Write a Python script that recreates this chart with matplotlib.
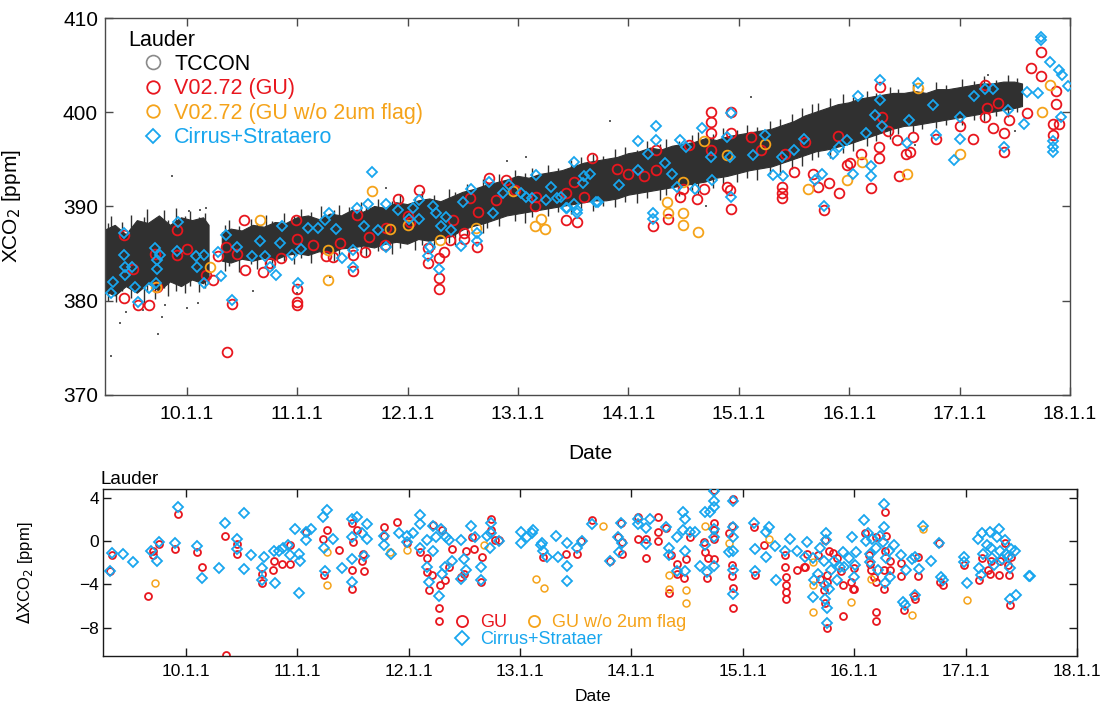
import matplotlib
matplotlib.use("Agg")
import matplotlib.pyplot as plt
import numpy as np
from matplotlib.lines import Line2D

plt.rcParams["font.family"] = ["Liberation Sans", "DejaVu Sans"]

RED = "#E8161E"
ORANGE = "#F5A31A"
BLUE = "#18A6EE"
TC = "#303030"

XTICKS = [2010, 2011, 2012, 2013, 2014, 2015, 2016, 2017, 2018]
XTICK_LABELS = ["10.1.1", "11.1.1", "12.1.1", "13.1.1", "14.1.1",
                "15.1.1", "16.1.1", "17.1.1", "18.1.1"]

# ---- TCCON band (decimal year, low / high XCO2 of the daily spread) ----
tc_year = [2009.26, 2009.35, 2009.45, 2009.55, 2009.65, 2009.75, 2009.85, 2009.95,
           2010.05, 2010.15, 2010.20, 2010.26, 2010.32, 2010.40, 2010.50, 2010.60,
           2010.70, 2010.80, 2010.90, 2011.00, 2011.10, 2011.20, 2011.30, 2011.40,
           2011.50, 2011.60, 2011.70, 2011.80, 2011.90, 2012.00, 2012.10, 2012.20,
           2012.30, 2012.40, 2012.50, 2012.60, 2012.70, 2012.80, 2012.90, 2013.00,
           2013.10, 2013.20, 2013.30, 2013.40, 2013.50, 2013.60, 2013.70, 2013.80,
           2013.90, 2014.00, 2014.10, 2014.20, 2014.30, 2014.40, 2014.50, 2014.60,
           2014.70, 2014.80, 2014.90, 2015.00, 2015.10, 2015.20, 2015.30, 2015.40,
           2015.50, 2015.60, 2015.70, 2015.80, 2015.90, 2016.00, 2016.10, 2016.20,
           2016.30, 2016.40, 2016.50, 2016.60, 2016.70, 2016.80, 2016.90, 2017.00,
           2017.10, 2017.20, 2017.30, 2017.40, 2017.50, 2017.57]
tc_lo = [381.0, 380.5, 381.5, 380.8, 381.8, 381.0, 382.0, 381.5,
         382.2, 381.8, 382.5, np.nan, 384.2, 384.0, 384.4, 384.2,
         384.5, 384.3, 384.8, 385.0, 384.8, 385.2, 385.0, 385.5,
         385.6, 385.8, 385.6, 386.0, 386.2, 386.0, 386.5, 386.3,
         386.6, 386.8, 387.5, 387.9, 388.2, 388.6, 389.0, 389.2,
         389.4, 389.6, 389.8, 390.0, 390.2, 390.4, 390.6, 390.6,
         390.8, 391.2, 391.4, 391.6, 391.8, 392.0, 392.2, 392.4,
         392.6, 393.0, 393.2, 393.5, 393.8, 394.0, 394.2, 394.6,
         395.0, 395.4, 395.8, 396.0, 396.3, 396.6, 397.0, 397.4,
         397.8, 398.2, 398.5, 398.6, 398.8, 399.0, 399.2, 399.4,
         399.6, 399.8, 400.0, 400.2, 400.4, 400.6]
tc_hi = [387.5, 388.0, 387.0, 388.5, 388.2, 389.0, 388.0, 388.8,
         388.5, 388.8, 388.0, np.nan, 387.2, 387.6, 387.4, 388.0,
         387.8, 388.3, 388.2, 388.8, 389.0, 388.6, 389.2, 389.0,
         389.6, 389.4, 390.0, 389.8, 390.4, 390.2, 390.6, 390.8,
         390.5, 391.0, 391.5, 391.8, 392.2, 392.5, 392.8, 393.2,
         393.0, 393.4, 393.6, 393.8, 394.2, 394.6, 394.8, 395.0,
         395.2, 395.6, 395.8, 396.2, 396.0, 396.4, 396.6, 396.8,
         397.2, 397.0, 397.4, 397.6, 397.8, 398.0, 398.2, 398.6,
         399.0, 399.6, 400.0, 400.4, 400.8, 401.0, 401.4, 401.6,
         401.8, 402.0, 402.0, 402.2, 402.0, 402.4, 402.4, 402.6,
         402.8, 403.0, 403.0, 403.2, 403.2, 403.0]

# single days whose spread sticks out of the band
tc_spike_year = [2009.28, 2009.31, 2009.36, 2009.41, 2009.49, 2009.53, 2009.61, 2009.64,
                 2009.71, 2009.79, 2009.83, 2009.90, 2009.98, 2010.03, 2010.11, 2010.16,
                 2010.34, 2010.38, 2010.47, 2010.58, 2010.63, 2010.72, 2010.77, 2010.88,
                 2010.97, 2011.03, 2011.12, 2011.21, 2011.33, 2011.38, 2011.47, 2011.58,
                 2011.62, 2011.73, 2011.86, 2011.93, 2012.07, 2012.13, 2012.24, 2012.37,
                 2012.43, 2012.54, 2012.68, 2012.72, 2012.83, 2012.97, 2013.06, 2013.13,
                 2013.27, 2013.36, 2013.48, 2013.57, 2013.68, 2013.77, 2013.88, 2013.97,
                 2014.08, 2014.17, 2014.29, 2014.34, 2014.46, 2014.58, 2014.63, 2014.77,
                 2014.86, 2014.98, 2015.07, 2015.16, 2015.28, 2015.37, 2015.48, 2015.57,
                 2015.66, 2015.72, 2015.83, 2015.94, 2016.03, 2016.16, 2016.24, 2016.37,
                 2016.44, 2016.58, 2016.66, 2016.79, 2016.88, 2017.02, 2017.13, 2017.22,
                 2017.33, 2017.44, 2017.52]
tc_spike_lo = [380.0, 381.2, 379.9, 381.0, 380.3, 381.4, 379.8, 380.9,
               380.2, 381.3, 380.5, 381.0, 380.8, 381.6, 380.9, 381.3,
               383.2, 383.7, 383.1, 383.9, 383.4, 383.8, 383.3, 384.2,
               383.9, 384.5, 384.0, 384.6, 384.2, 384.9, 384.6, 385.1,
               384.7, 385.3, 385.0, 385.6, 385.4, 385.9, 385.5, 386.1,
               385.9, 386.8, 387.2, 387.7, 387.9, 388.5, 388.3, 388.9,
               389.0, 389.4, 389.2, 389.7, 389.5, 390.1, 389.9, 390.5,
               390.4, 390.9, 390.7, 391.2, 391.1, 391.6, 391.3, 392.0,
               392.3, 392.6, 393.0, 392.8, 393.5, 393.3, 394.0, 394.3,
               394.9, 395.3, 395.1, 395.7, 395.9, 396.4, 396.9, 397.2,
               397.7, 397.9, 398.2, 398.3, 398.7, 398.6, 399.2, 399.1,
               399.6, 399.5, 400.0]
tc_spike_hi = [388.2, 389.0, 387.6, 388.4, 389.1, 387.9, 388.9, 389.7,
               388.4, 389.6, 388.6, 389.8, 389.0, 389.5, 388.9, 389.3,
               388.0, 388.6, 387.9, 388.7, 388.2, 389.1, 388.5, 389.3,
               389.0, 389.7, 389.4, 390.0, 389.6, 390.2, 389.9, 390.5,
               390.0, 390.8, 390.6, 391.3, 391.0, 391.6, 391.2, 391.9,
               391.5, 392.4, 392.9, 392.6, 393.4, 393.9, 393.6, 394.1,
               394.4, 394.1, 394.9, 395.3, 395.6, 395.4, 396.1, 396.3,
               396.0, 396.9, 396.6, 397.2, 397.0, 397.6, 397.9, 397.7,
               398.3, 398.1, 398.6, 398.4, 399.1, 399.3, 399.8, 400.4,
               400.9, 401.0, 401.5, 401.9, 401.6, 402.3, 402.0, 402.7,
               402.5, 403.0, 402.6, 403.2, 402.9, 403.5, 403.3, 403.8,
               403.4, 403.9, 403.6]

# stray TCCON soundings outside the band
tc_out_year = [2009.31, 2009.39, 2009.74, 2009.86, 2009.77, 2010.00, 2010.02, 2010.17,
               2010.12, 2009.60, 2009.45, 2009.80, 2010.10, 2010.60, 2011.00, 2011.30,
               2012.20, 2012.90, 2013.07, 2013.83, 2015.11, 2017.26, 2016.60, 2017.50,
               2014.70, 2011.80]
tc_out_xco2 = [374.1, 377.6, 376.5, 393.2, 378.3, 379.2, 389.5, 389.8,
               389.6, 379.0, 378.8, 379.5, 379.8, 381.0, 380.8, 382.5,
               383.5, 394.8, 395.3, 399.1, 401.6, 404.0, 396.5, 398.0,
               390.0, 392.0]

# ---- satellite retrievals, top panel ----
gu_year = [2009.43, 2009.43, 2009.56, 2009.66, 2009.51, 2009.71, 2009.73, 2009.91, 2009.91,
           2010.17, 2010.24, 2010.28, 2010.35, 2010.36, 2010.41, 2010.45, 2010.52, 2010.53,
           2010.69, 2010.75, 2010.85, 2010.99, 2011.00, 2011.00, 2011.00, 2011.14, 2011.26,
           2011.32, 2011.39, 2011.50, 2011.50, 2011.61, 2011.54, 2011.65, 2011.79, 2011.80,
           2011.91, 2012.02, 2012.10, 2012.18, 2012.18, 2012.28, 2012.28, 2012.28, 2012.33,
           2012.38, 2012.41, 2012.51, 2012.51, 2012.56, 2012.63, 2012.64, 2012.74, 2012.80,
           2012.89, 2012.97, 2013.15, 2013.16, 2013.43, 2013.51, 2013.53, 2013.43, 2013.60,
           2013.67, 2014.14, 2014.22, 2014.25, 2014.25, 2014.36, 2014.47, 2014.49, 2014.62,
           2014.68, 2014.75, 2014.75, 2014.75, 2014.75, 2014.89, 2014.92, 2014.93, 2014.93,
           2014.93, 2015.11, 2015.39, 2015.39, 2015.39, 2015.42, 2015.50, 2015.67, 2015.72,
           2015.77, 2015.82, 2015.91, 2015.98, 2016.01, 2016.11, 2016.20, 2016.27, 2016.28,
           2016.27, 2016.43, 2016.45, 2016.51, 2016.55, 2016.58, 2016.79, 2017.00, 2017.12,
           2017.23, 2017.23, 2017.30, 2017.40, 2017.40, 2017.45, 2017.61, 2017.65, 2017.74,
           2017.74, 2017.85, 2017.85, 2017.90, 2017.87, 2017.87, 2013.90, 2014.55, 2015.20,
           2015.90, 2016.30, 2016.35, 2017.25, 2017.35, 2015.60, 2014.00, 2012.00, 2011.00,
           2010.00]
gu_xco2 = [387.0, 380.3, 379.5, 379.5, 383.4, 385.0, 381.5, 387.5, 384.9,
           382.7, 382.2, 384.7, 385.7, 374.6, 379.7, 385.0, 388.6, 383.3,
           383.1, 384.0, 384.5, 388.6, 381.2, 379.9, 379.5, 385.9, 384.7,
           384.6, 386.1, 384.9, 383.2, 385.2, 389.1, 386.8, 385.9, 387.7,
           390.8, 388.4, 391.7, 385.6, 384.0, 384.5, 382.4, 381.2, 385.2,
           386.4, 388.6, 387.2, 386.6, 390.9, 385.7, 389.4, 393.0, 390.7,
           392.8, 391.7, 390.0, 391.0, 391.4, 392.6, 388.4, 388.6, 391.0,
           395.1, 393.2, 387.9, 396.0, 393.9, 388.7, 391.0, 391.9, 390.8,
           391.9, 400.0, 399.0, 397.8, 396.0, 392.1, 391.8, 389.7, 400.0,
           397.8, 397.4, 392.1, 391.4, 390.9, 395.6, 393.7, 393.5, 392.1,
           389.6, 392.5, 391.4, 394.4, 394.6, 395.6, 392.0, 395.1, 402.7,
           396.3, 397.1, 393.2, 395.6, 395.8, 397.4, 397.2, 398.5, 397.2,
           402.9, 399.5, 398.3, 395.8, 397.8, 399.2, 399.9, 404.7, 406.4,
           403.8, 398.8, 397.6, 398.8, 400.9, 402.3, 394.0, 396.5, 396.0,
           397.5, 399.5, 398.0, 400.5, 401.0, 396.8, 393.5, 389.0, 386.5,
           385.5]

gu_noflag_year = [2009.72, 2010.21, 2010.66, 2011.28, 2011.28, 2011.68, 2011.84, 2012.00,
                  2012.29, 2012.62, 2012.95, 2013.15, 2013.24, 2013.21, 2014.35, 2014.36,
                  2014.49, 2014.49, 2014.63, 2014.49, 2014.89, 2015.24, 2015.63, 2015.98,
                  2016.12, 2016.52, 2016.62, 2017.00, 2017.75, 2017.82, 2014.68]
gu_noflag_xco2 = [381.5, 383.6, 388.6, 385.4, 382.2, 391.6, 387.6, 388.0,
                  386.4, 387.7, 391.6, 387.9, 387.6, 388.7, 390.5, 389.3,
                  389.3, 388.0, 387.3, 392.6, 395.5, 396.6, 391.9, 392.8,
                  394.7, 393.5, 402.6, 395.6, 400.0, 402.9, 396.9]

cirrus_year = [2009.31, 2009.33, 2009.43, 2009.43, 2009.44, 2009.44, 2009.50, 2009.53, 2009.56,
               2009.66, 2009.71, 2009.73, 2009.73, 2009.76, 2009.72, 2009.92, 2009.91, 2010.08,
               2010.09, 2010.15, 2010.15, 2010.28, 2010.31, 2010.35, 2010.41, 2010.45, 2010.59,
               2010.66, 2010.71, 2010.75, 2010.81, 2010.84, 2010.86, 2010.95, 2011.01, 2011.03,
               2011.10, 2011.19, 2011.25, 2011.29, 2011.35, 2011.40, 2011.50, 2011.50, 2011.54,
               2011.60, 2011.64, 2011.68, 2011.73, 2011.80, 2011.80, 2011.91, 2012.01, 2012.05,
               2012.10, 2012.10, 2012.18, 2012.20, 2012.23, 2012.26, 2012.28, 2012.30, 2012.35,
               2012.39, 2012.48, 2012.50, 2012.57, 2012.63, 2012.63, 2012.74, 2012.77, 2012.86,
               2012.92, 2013.03, 2013.07, 2013.13, 2013.16, 2013.25, 2013.30, 2013.39, 2013.44,
               2013.53, 2013.51, 2013.60, 2013.71, 2013.65, 2013.35, 2013.43, 2013.51, 2013.53,
               2013.59, 2013.72, 2013.91, 2014.09, 2014.09, 2014.18, 2014.22, 2014.22, 2014.25,
               2014.25, 2014.33, 2014.39, 2014.44, 2014.47, 2014.52, 2014.60, 2014.67, 2014.75,
               2014.76, 2014.89, 2014.92, 2014.93, 2014.93, 2015.13, 2015.24, 2015.31, 2015.39,
               2015.40, 2015.50, 2015.59, 2015.69, 2015.75, 2015.77, 2015.85, 2015.91, 2015.98,
               2016.03, 2016.08, 2016.15, 2016.20, 2016.20, 2016.23, 2016.28, 2016.28, 2016.30,
               2016.52, 2016.54, 2016.62, 2016.76, 2016.79, 2016.95, 2017.00, 2017.00, 2017.13,
               2017.23, 2017.30, 2017.40, 2017.44, 2017.58, 2017.61, 2017.74, 2017.74, 2017.82,
               2017.90, 2017.93, 2017.98, 2017.85, 2017.85, 2017.85, 2017.92, 2017.71]
cirrus_xco2 = [380.8, 382.0, 387.2, 384.9, 383.6, 382.7, 383.6, 381.5, 379.9,
               381.3, 385.6, 383.4, 384.3, 384.9, 381.9, 388.4, 385.3, 384.7,
               383.6, 384.9, 381.9, 385.2, 382.6, 387.0, 380.1, 385.7, 384.7,
               386.3, 384.7, 383.6, 382.7, 386.1, 387.9, 384.9, 381.9, 385.5,
               387.7, 387.7, 388.6, 389.3, 387.6, 384.5, 383.6, 385.4, 389.8,
               387.9, 390.3, 393.7, 387.5, 385.7, 390.3, 389.6, 388.7, 389.8,
               390.7, 388.7, 384.7, 385.7, 390.0, 389.3, 383.4, 387.9, 388.9,
               387.5, 385.8, 390.5, 391.9, 386.3, 387.2, 392.6, 389.3, 391.4,
               392.3, 391.4, 391.0, 390.9, 393.3, 390.7, 392.1, 391.0, 389.8,
               389.6, 394.7, 393.2, 390.5, 393.5, 390.9, 389.8, 390.3, 389.3,
               392.5, 390.5, 392.3, 396.9, 393.9, 395.6, 389.3, 388.7, 398.5,
               397.1, 394.6, 393.5, 392.1, 397.1, 396.3, 391.9, 398.3, 395.3,
               392.8, 397.4, 395.3, 391.0, 399.9, 395.5, 397.6, 393.3, 395.3,
               393.2, 396.0, 397.2, 392.8, 393.5, 390.1, 395.6, 396.3, 397.1,
               393.5, 401.7, 397.8, 394.3, 393.2, 399.7, 403.4, 401.3, 398.5,
               396.7, 399.2, 403.1, 400.8, 397.6, 394.9, 397.2, 399.5, 401.7,
               402.5, 402.5, 396.3, 400.2, 398.8, 402.2, 408.0, 407.7, 405.3,
               404.5, 404.0, 402.8, 395.8, 396.3, 396.9, 399.5, 402.0]

# ---- bottom panel: difference to TCCON ----
d_gu_year = [2009.32, 2009.34, 2009.66, 2009.71, 2009.71, 2009.76, 2009.93, 2009.90, 2010.10,
             2010.15, 2010.35, 2010.36, 2010.46, 2010.46, 2010.68, 2010.68, 2010.78, 2010.79,
             2010.86, 2010.94, 2010.94, 2011.08, 2011.23, 2011.24, 2011.27, 2011.38, 2011.49,
             2011.49, 2011.49, 2011.50, 2011.54, 2011.58, 2011.60, 2011.59, 2011.78, 2011.78,
             2011.90, 2011.99, 2012.10, 2012.17, 2012.17, 2012.18, 2012.21, 2012.22, 2012.27,
             2012.27, 2012.28, 2012.30, 2012.33, 2012.36, 2012.39, 2012.47, 2012.50, 2012.52,
             2012.57, 2012.59, 2012.65, 2012.66, 2012.74, 2012.74, 2012.78, 2012.81,
             2013.21, 2013.41, 2013.51, 2013.55, 2013.65, 2013.81, 2013.88, 2013.91, 2013.92,
             2013.92, 2014.06, 2014.06, 2014.13, 2014.13, 2014.24, 2014.24, 2014.24, 2014.31,
             2014.34, 2014.36, 2014.41, 2014.41, 2014.47, 2014.49, 2014.53, 2014.65, 2014.66,
             2014.68, 2014.69, 2014.74, 2014.74, 2014.74, 2014.74, 2014.74, 2014.88, 2014.90,
             2014.90, 2014.90, 2014.91, 2014.91, 2014.91, 2015.10, 2015.11, 2015.19, 2015.38,
             2015.38, 2015.39, 2015.39, 2015.39, 2015.39, 2015.49, 2015.55, 2015.56, 2015.58,
             2015.68, 2015.69, 2015.73, 2015.74, 2015.74, 2015.76, 2015.76, 2015.76, 2015.77,
             2015.81, 2015.85, 2015.88, 2015.90, 2015.90, 2015.97, 2015.99, 2016.00, 2016.00,
             2016.10, 2016.13, 2016.14, 2016.15, 2016.18, 2016.20, 2016.20, 2016.20, 2016.20,
             2016.28, 2016.27, 2016.27, 2016.28, 2016.29, 2016.32, 2016.32, 2016.42, 2016.42,
             2016.45, 2016.54, 2016.55, 2016.57, 2016.57, 2016.76, 2016.77, 2016.80, 2016.99,
             2017.12, 2017.15, 2017.20, 2017.22, 2017.23, 2017.30, 2017.31, 2017.35, 2017.38,
             2017.39, 2017.41, 2017.40]
d_gu = [-2.8, -1.3, -5.1, -1.3, -0.9, -0.3, 2.5, -0.7, -1.0,
        -2.4, 0.5, -10.5, -1.2, -0.3, -3.0, -3.9, -2.7, -1.8,
        -2.1, -0.4, -2.1, 0.8, 0.2, -3.1, 1.0, -0.8, 1.7,
        -2.7, -4.4, -0.1, 1.0, -1.8, -2.8, -1.2, 1.3, 0.5,
        1.8, -0.2, -1.0, -1.6, -2.9, -4.5, -3.1, 1.5, -6.2,
        -7.4, -4.1, 1.0, -3.6, -2.4, -0.7, -3.3, -3.0, -0.9,
        0.4, -0.7, -3.8, -1.5, 2.0, 1.0, 0.1, 0.1,
        -1.5, -1.2, -1.2, 0.0, 1.9, -1.8, 0.4, 1.7, -0.1,
        -1.2, 2.2, 0.2, -1.6, 0.2, 2.2, 0.8, 0.0, 1.2,
        -4.8, -1.3, -2.1, -3.0, -3.4, -1.7, 0.4, -0.1, -1.0,
        -3.4, -1.6, 1.7, 1.0, 0.2, -1.7, 4.7, 0.7, 1.4,
        -2.2, -3.2, -4.3, -6.2, 3.9, 1.3, -3.1, -0.4, -1.3,
        -2.4, -3.3, -4.1, -4.7, -5.3, -2.7, -2.4, -2.4, -1.2,
        -1.3, -3.5, -4.5, 0.1, -5.7, -3.1, -8.0, -3.8, -0.9,
        -1.1, -1.6, -2.8, -4.1, -6.9, -3.8, -4.4, -4.4, -2.5,
        0.7, -1.3, -2.1, -2.7, -3.3, -3.8, 0.4, -6.5, -7.4,
        2.7, -2.7, -4.4, -0.9, 0.5, -1.8, -2.7, -3.2, -2.0,
        -6.4, -5.1, -5.3, -3.2, -1.5, -0.2, -3.8, -4.1, -2.2,
        -3.6, -1.6, -2.7, -3.0, -1.8, -3.1, -1.8, -0.2, -2.2,
        -3.1, -1.5, -5.9]

d_noflag_year = [2009.72, 2011.27, 2011.27, 2011.83, 2011.99, 2012.68, 2013.14, 2013.22,
                 2013.75, 2014.34, 2014.34, 2014.49, 2014.49, 2014.66, 2014.88, 2015.24,
                 2015.63, 2015.63, 2015.63, 2015.97, 2016.15, 2016.52, 2016.62, 2017.01]
d_noflag = [-3.9, -1.0, -4.1, -1.0, -0.8, -0.4, -3.5, -4.3,
            1.4, -3.1, -4.4, -4.5, -5.7, 1.4, -0.2, 0.2,
            -1.9, -4.1, -6.5, -5.6, -3.5, -6.8, 1.1, -5.4]

d_cirrus_year = [2009.32, 2009.34, 2009.44, 2009.53, 2009.69, 2009.74, 2009.76, 2009.90, 2009.93,
                 2010.10, 2010.15, 2010.30, 2010.35, 2010.46, 2010.46, 2010.52, 2010.52, 2010.59,
                 2010.68, 2010.68, 2010.70, 2010.79, 2010.80, 2010.84, 2010.87, 2010.92, 2010.94,
                 2010.98, 2011.02, 2011.02, 2011.03, 2011.08, 2011.08, 2011.12, 2011.23, 2011.25,
                 2011.27, 2011.24, 2011.32, 2011.40, 2011.49, 2011.49, 2011.49, 2011.49, 2011.54,
                 2011.58, 2011.60, 2011.63, 2011.63, 2011.78, 2011.78, 2011.84, 2011.91, 2011.99,
                 2011.99, 2012.04, 2012.10, 2012.10, 2012.10, 2012.17, 2012.17, 2012.18, 2012.22,
                 2012.22, 2012.25, 2012.27, 2012.29, 2012.30, 2012.33, 2012.34, 2012.36, 2012.39,
                 2012.47, 2012.47, 2012.50, 2012.52, 2012.56, 2012.60, 2012.65, 2012.65, 2012.70,
                 2012.73, 2012.74, 2012.74, 2012.81, 2013.01, 2013.01, 2013.06, 2013.11, 2013.12,
                 2013.19, 2013.21, 2013.24, 2013.32, 2013.20, 2013.34, 2013.42, 2013.42, 2013.42,
                 2013.51, 2013.56, 2013.65, 2013.81, 2013.88, 2013.91, 2013.92, 2013.89, 2014.06,
                 2014.06, 2014.17, 2014.13, 2014.13, 2014.31, 2014.34, 2014.34, 2014.41, 2014.41,
                 2014.46, 2014.48, 2014.48, 2014.48, 2014.46, 2014.53, 2014.57, 2014.62, 2014.66,
                 2014.68, 2014.66, 2014.71, 2014.74, 2014.74, 2014.74, 2014.74, 2014.74, 2014.74,
                 2014.88, 2014.91, 2014.91, 2014.91, 2014.91, 2014.91, 2014.91, 2015.10, 2015.11,
                 2015.11, 2015.21, 2015.24, 2015.21, 2015.29, 2015.30, 2015.38, 2015.42, 2015.49,
                 2015.56, 2015.58, 2015.63, 2015.64, 2015.63, 2015.68, 2015.69, 2015.73, 2015.74,
                 2015.74, 2015.75, 2015.75, 2015.76, 2015.76, 2015.77, 2015.79, 2015.82, 2015.85,
                 2015.87, 2015.90, 2015.91, 2015.95, 2015.98, 2016.00, 2016.01, 2016.02, 2016.09,
                 2016.11, 2016.12, 2016.14, 2016.14, 2016.16, 2016.20, 2016.21, 2016.23, 2016.26,
                 2016.27, 2016.27, 2016.28, 2016.29, 2016.31, 2016.32, 2016.36, 2016.42, 2016.44,
                 2016.46, 2016.47, 2016.52, 2016.55, 2016.55, 2016.58, 2016.62, 2016.69, 2016.76,
                 2016.78, 2016.80, 2016.99, 2016.99, 2017.01, 2017.11, 2017.12, 2017.14, 2017.15,
                 2017.16, 2017.19, 2017.22, 2017.23, 2017.24, 2017.26, 2017.28, 2017.30, 2017.31,
                 2017.33, 2017.35, 2017.36, 2017.38, 2017.40, 2017.41, 2017.44, 2017.40, 2017.45,
                 2017.57, 2017.58]
d_cirrus = [-2.8, -1.1, -1.2, -1.9, -0.9, -1.8, -0.1, -0.2, 3.1,
            -0.5, -3.4, -2.5, 1.7, 0.2, -0.7, 2.6, -2.6, -1.3,
            -2.5, -3.6, -1.5, -0.9, -3.9, -0.9, -0.6, -0.4, -1.3,
            1.1, -4.8, -1.2, -1.8, 0.1, 0.8, 1.1, 2.2, -2.8,
            2.9, -0.6, 0.2, -2.5, 2.0, 0.4, -1.7, -3.8, 2.2,
            0.7, -1.4, 1.6, 0.2, 0.5, -0.4, -1.2, 0.7, 0.5,
            -0.1, 0.7, 1.6, 2.4, -0.6, 0.1, -2.4, -3.8, -0.9,
            1.4, 0.4, -5.1, 1.1, -3.0, -2.4, 0.4, 0.1, -1.8,
            0.1, -3.5, -1.7, -2.7, 1.4, 0.4, -2.4, -3.6, 0.5,
            -0.6, 1.7, 0.7, 0.0, 0.8, -0.2, 0.4, 0.7, 1.0,
            -0.4, -0.9, -1.5, 0.5, -0.2, -1.5, -0.2, -2.3, -3.7,
            -0.6, 0.0, 1.6, -1.8, 0.4, 1.7, -0.2, -1.0, 2.0,
            1.6, 2.0, 1.2, -0.3, 1.3, -0.6, -1.3, 0.4, -2.8,
            2.7, 2.0, -0.9, -2.8, 1.0, 0.8, 0.8, -2.3, 2.7,
            -2.9, -0.4, 2.7, 3.7, 3.1, 1.1, 0.4, -2.3, 4.6,
            -1.0, 3.7, 1.3, 0.4, -0.9, -2.7, -4.9, 1.7, -0.7,
            -2.8, 0.8, 1.3, -1.5, -0.5, -3.6, -0.9, 0.2, -0.9,
            -1.5, -0.1, -1.6, -3.6, -5.2, -3.0, -0.6, -1.8, -4.1,
            -5.3, 0.7, 0.1, -6.2, -7.6, -4.4, -2.7, -1.8, -3.6,
            -2.4, -1.0, -2.4, -1.6, 0.4, -3.3, -2.2, -1.0, 1.9,
            0.0, 0.7, -1.2, -1.9, 0.2, -0.6, -2.7, 0.5, -0.1,
            3.4, 1.3, -3.9, -1.6, -0.9, -3.3, -0.4, -1.3, -5.6,
            -5.9, -2.7, -1.7, -1.5, -5.0, -2.6, 1.4, -1.8, -0.2,
            -3.3, -3.6, -1.5, -1.9, -3.9, 0.2, -2.5, -3.1, 0.7,
            -1.2, -0.4, 0.8, -0.6, -1.6, -2.2, 0.4, 1.1, -0.9,
            -1.7, 0.1, -1.2, -1.5, -2.5, -0.7, -0.9, -5.3, -5.0,
            -3.2, -3.2]


def style_axes(ax, spine_color, tick_size, pad_x, pad_y):
    for s in ax.spines.values():
        s.set_color(spine_color)
        s.set_linewidth(1.0)
    ax.tick_params(direction="in", top=True, right=True, length=6, width=1.0,
                   color=spine_color, labelcolor="black", labelsize=tick_size)
    ax.tick_params(axis="x", pad=pad_x)
    ax.tick_params(axis="y", pad=pad_y)
    ax.set_xticks(XTICKS)
    ax.set_xticklabels(XTICK_LABELS)
    ax.set_xlim(2009.257, 2018.0)


fig = plt.figure(figsize=(11.05, 7.09), dpi=100)

# ---------------- top panel ----------------
ax1 = fig.add_axes([0.095, 0.4429, 0.8733, 0.5317])
ax1.fill_between(tc_year, tc_lo, tc_hi, color=TC, lw=0.8, zorder=1)
ax1.vlines(tc_spike_year, tc_spike_lo, tc_spike_hi, color=TC, lw=1.0, zorder=1)
ax1.plot(tc_out_year, tc_out_xco2, "s", ms=1.8, color="#606060", mew=0, zorder=1)
ax1.plot(gu_year, gu_xco2, "o", ls="none", mfc="none", mec=RED, ms=7, mew=1.3, zorder=2)
ax1.plot(gu_noflag_year, gu_noflag_xco2, "o", ls="none", mfc="none", mec=ORANGE,
         ms=7, mew=1.3, zorder=3)
ax1.plot(cirrus_year, cirrus_xco2, "D", ls="none", mfc="none", mec=BLUE, ms=5.5,
         mew=1.3, zorder=4)

style_axes(ax1, "#4a4a4a", 15, 8, 5)
ax1.tick_params(axis="x", labelsize=14)
ax1.set_ylim(370, 410)
ax1.set_yticks([370, 380, 390, 400, 410])
ax1.set_ylabel("XCO$_2$ [ppm]", fontsize=15)
ax1.yaxis.set_label_coords(-0.085, 0.5)
ax1.set_xlabel("Date", fontsize=15)
ax1.xaxis.set_label_coords(0.503, -0.13)

ax1.text(0.024, 0.94, "Lauder", transform=ax1.transAxes, fontsize=15.5,
         va="center", ha="left")
h_top = [
    Line2D([], [], marker="o", ls="none", mfc="none", mec="#8a8a8a", ms=10, mew=1.2),
    Line2D([], [], marker="o", ls="none", mfc="none", mec=RED, ms=9, mew=1.3),
    Line2D([], [], marker="o", ls="none", mfc="none", mec=ORANGE, ms=9, mew=1.3),
    Line2D([], [], marker="D", ls="none", mfc="none", mec=BLUE, ms=7.5, mew=1.3),
]
leg1 = ax1.legend(h_top, ["TCCON", "V02.72 (GU)", "V02.72 (GU w/o 2um flag)",
                          "Cirrus+Strataero"],
                  loc="upper left", bbox_to_anchor=(0.041, 0.905), frameon=False,
                  fontsize=15.5, handlelength=0.8, handletextpad=0.58,
                  labelspacing=0.16, borderpad=0, borderaxespad=0)
for t, c in zip(leg1.get_texts(), ["black", RED, ORANGE, BLUE]):
    t.set_color(c)

# ---------------- bottom panel ----------------
ax2 = fig.add_axes([0.0932, 0.0748, 0.8814, 0.2355])
ax2.plot(d_gu_year, d_gu, "o", ls="none", mfc="none", mec=RED, ms=5, mew=1.3, zorder=2)
ax2.plot(d_noflag_year, d_noflag, "o", ls="none", mfc="none", mec=ORANGE, ms=5,
         mew=1.1, zorder=3)
ax2.plot(d_cirrus_year, d_cirrus, "D", ls="none", mfc="none", mec=BLUE, ms=5,
         mew=1.3, zorder=4)

style_axes(ax2, "#1a1a1a", 12.5, 6, 3)
ax2.set_ylim(-10.6, 4.8)
ax2.set_yticks([-8, -4, 0, 4])
ax2.set_ylabel("$\\Delta$XCO$_2$ [ppm]", fontsize=12)
ax2.yaxis.set_label_coords(-0.07, 0.5)
ax2.set_xlabel("Date", fontsize=12.5)
ax2.xaxis.set_label_coords(0.503, -0.2)
ax2.text(-0.003, 1.055, "Lauder", transform=ax2.transAxes, fontsize=13.5,
         va="center", ha="left")

h_bot = [
    Line2D([], [], marker="o", ls="none", mfc="none", mec=RED, ms=8, mew=1.3),
    Line2D([], [], marker="D", ls="none", mfc="none", mec=BLUE, ms=7, mew=1.3),
    Line2D([], [], marker="o", ls="none", mfc="none", mec=ORANGE, ms=8, mew=1.3),
]
leg2 = ax2.legend(h_bot, ["GU", "Cirrus+Strataer", "GU w/o 2um flag"], ncol=2,
                  loc="upper left", bbox_to_anchor=(0.361, 0.25), frameon=False,
                  fontsize=13, handlelength=0.8, handletextpad=0.6,
                  labelspacing=0.0, columnspacing=-4.2, borderpad=0,
                  borderaxespad=0)
for t, c in zip(leg2.get_texts(), [RED, BLUE, ORANGE]):
    t.set_color(c)

fig.savefig("out.png", dpi=100)
